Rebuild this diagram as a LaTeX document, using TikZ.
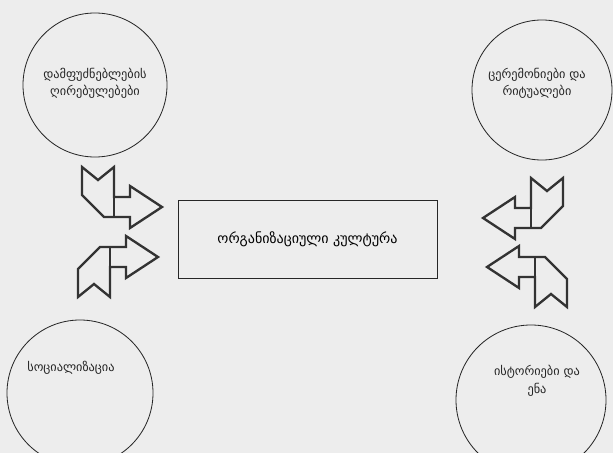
\documentclass[tikz,border=0pt]{standalone}
\usepackage{fontspec}
\newfontfamily\geo{DejaVu Sans}
\usepackage{tikz}
\usetikzlibrary{positioning}
\tikzset{ring/.style={draw=black!85,line width=0.7pt,circle,inner sep=0pt},
         lbl/.style={font=\geo\fontsize{10.5}{15}\selectfont,align=center,text=black!85},
         arrline/.style={draw=black!80,line width=2pt,line join=miter},
         ribbon/.pic={
            \draw[arrline] (0,0) -- (-32,-21) -- (-32,-10) -- (-48,-10) -- (-48,-40)
                -- (-64,-27) -- (-80,-40) -- (-80,-12) -- (-58,10) -- (-32,10)
                -- (-32,21) -- cycle;
            \draw[arrline] (-48,-10) -- (-48,10);
         }}

\begin{document}
\begin{tikzpicture}[x=0.03cm,y=-0.03cm]
    \fill[black!7] (0,0) rectangle (613,453);
    \useasboundingbox (0,0) rectangle (613,453);
    % kuTxeebis wreebi
    \node[ring,minimum size=4.32cm] (founders) at (95,85)  {};
    \node[ring,minimum size=4.2cm]  (rituals)  at (542,90) {};
    \node[ring,minimum size=4.38cm] (social)   at (80,393) {};
    \node[ring,minimum size=4.5cm]  (stories)  at (531,400) {};
    \node[lbl] at ([yshift=0.05cm]founders) {დამფუძნებლების\\ღირებულებები};
    \node[lbl] at ([xshift=-0.15cm,yshift=0.2cm]rituals) {ცერემონიები და\\რიტუალები};
    \node[lbl] at ([xshift=-0.27cm,yshift=0.75cm]social) {სოციალიზაცია};
    \node[lbl] at ([xshift=0.18cm,yshift=0.57cm]stories) {ისტორიები და\\ენა};
    % centri
    \node[draw=black!85,line width=0.8pt,minimum width=7.77cm,minimum height=2.34cm,
          font=\geo\fontsize{12}{14}\selectfont] (culture) at (307.5,239) {ორგანიზაციული კულტურა};
    % isrebi
    \pic at (162,207) {ribbon};
    \pic[yscale=-1] at (158,257) {ribbon};
    \pic[xscale=-1] at (483,218) {ribbon};
    \pic[xscale=-1,yscale=-1] at (487,267) {ribbon};
\end{tikzpicture}
\end{document}
